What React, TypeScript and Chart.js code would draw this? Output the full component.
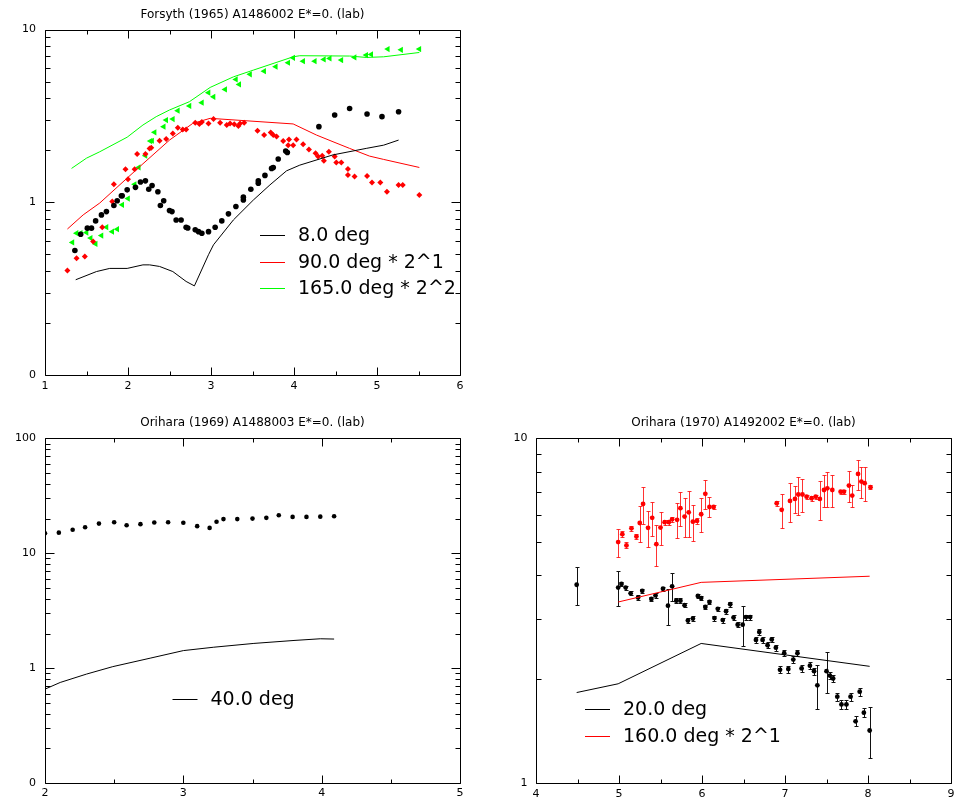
import React, { useEffect, useRef } from 'react';
import { Chart, registerables } from 'chart.js';

Chart.register(...registerables);

const FONT = 'DejaVu Sans';

// ---------------- Panel A: Forsyth (1965) ----------------
const titleA = 'Forsyth (1965) A1486002 E*=0. (lab)';
const xTicksA = [1, 2, 3, 4, 5, 6];
const yTicksA = [0.1, 1, 10];
const yLabelsA = ['0', '1', '10'];
const legendA = ['8.0 deg', '90.0 deg * 2^1', '165.0 deg * 2^2'];

const theory8X = [1.37, 1.62, 1.78, 1.99, 2.18, 2.26, 2.38, 2.54, 2.70, 2.80, 2.97, 3.03, 3.27, 3.51, 3.71, 3.91, 4.07, 4.47, 4.87, 5.08, 5.26];
const theory8Y = [0.356, 0.397, 0.414, 0.414, 0.434, 0.434, 0.425, 0.397, 0.348, 0.328, 0.497, 0.567, 0.79, 1.03, 1.26, 1.52, 1.64, 1.88, 2.05, 2.14, 2.29];

const theory90X = [1.27, 1.46, 1.66, 1.99, 2.18, 2.50, 2.78, 2.99, 3.99, 4.27, 4.47, 4.67, 4.91, 5.08, 5.51];
const theory90Y = [0.70, 0.845, 0.99, 1.38, 1.67, 2.29, 2.86, 3.06, 2.84, 2.45, 2.24, 2.05, 1.85, 1.77, 1.59];

const theory165X = [1.32, 1.50, 1.66, 1.99, 2.18, 2.34, 2.50, 2.74, 2.99, 3.27, 3.51, 3.99, 4.07, 4.67, 4.87, 5.08, 5.51];
const theory165Y = [1.57, 1.80, 1.96, 2.38, 2.80, 3.13, 3.42, 3.82, 4.62, 5.32, 5.82, 6.95, 7.05, 7.02, 6.89, 6.95, 7.36];

const exp8X = [1.36, 1.43, 1.51, 1.56, 1.61, 1.68, 1.74, 1.83, 1.87, 1.92, 1.93, 1.99, 2.09, 2.15, 2.21, 2.25, 2.29, 2.36, 2.39, 2.43, 2.50, 2.53, 2.58, 2.64, 2.70, 2.72, 2.81, 2.85, 2.89, 2.97, 3.05, 3.13, 3.21, 3.30, 3.39, 3.39, 3.48, 3.57, 3.57, 3.65, 3.73, 3.75, 3.81, 3.90, 3.92, 4.30, 4.49, 4.67, 4.88, 5.06, 5.26];
const exp8Y = [0.526, 0.653, 0.708, 0.708, 0.780, 0.845, 0.883, 0.957, 1.02, 1.09, 1.09, 1.18, 1.22, 1.31, 1.33, 1.19, 1.25, 1.15, 0.957, 1.02, 0.895, 0.883, 0.79, 0.79, 0.717, 0.71, 0.692, 0.676, 0.662, 0.676, 0.717, 0.78, 0.857, 0.944, 1.03, 1.07, 1.19, 1.29, 1.33, 1.43, 1.57, 1.59, 1.78, 1.98, 1.94, 2.74, 3.20, 3.49, 3.24, 3.13, 3.34];

const exp90X = [1.27, 1.38, 1.48, 1.58, 1.69, 1.81, 1.83, 1.97, 2.00, 2.08, 2.11, 2.21, 2.26, 2.28, 2.38, 2.46, 2.54, 2.60, 2.66, 2.70, 2.81, 2.86, 2.89, 2.97, 3.03, 3.11, 3.19, 3.23, 3.28, 3.33, 3.35, 3.40, 3.56, 3.64, 3.72, 3.75, 3.79, 3.87, 3.93, 3.94, 3.99, 4.03, 4.11, 4.18, 4.26, 4.29, 4.34, 4.36, 4.42, 4.49, 4.51, 4.57, 4.65, 4.65, 4.73, 4.88, 4.94, 5.04, 5.12, 5.26, 5.31, 5.51];
const exp90Y = [0.403, 0.474, 0.485, 0.593, 0.717, 1.01, 1.27, 1.55, 1.36, 1.55, 1.90, 1.90, 2.05, 2.07, 2.27, 2.32, 2.50, 2.70, 2.64, 2.64, 2.89, 2.84, 2.91, 2.86, 3.03, 2.89, 2.80, 2.86, 2.83, 2.76, 2.86, 2.89, 2.59, 2.45, 2.53, 2.45, 2.40, 2.26, 2.14, 2.31, 2.14, 2.31, 2.17, 2.02, 1.92, 1.84, 1.86, 1.74, 1.96, 1.84, 1.70, 1.70, 1.56, 1.44, 1.41, 1.42, 1.30, 1.30, 1.15, 1.26, 1.26, 1.10];

const exp165X = [1.33, 1.38, 1.43, 1.50, 1.55, 1.61, 1.68, 1.74, 1.81, 1.87, 1.93, 2.00, 2.08, 2.13, 2.21, 2.27, 2.29, 2.32, 2.43, 2.46, 2.54, 2.60, 2.74, 2.89, 2.97, 3.03, 3.17, 3.30, 3.34, 3.47, 3.64, 3.78, 3.93, 3.99, 4.11, 4.25, 4.36, 4.43, 4.57, 4.73, 4.87, 4.93, 5.13, 5.29, 5.51];
const exp165Y = [0.585, 0.662, 0.662, 0.668, 0.620, 0.574, 0.641, 0.717, 0.676, 0.698, 0.966, 1.05, 1.27, 1.59, 1.86, 2.26, 2.27, 2.54, 2.74, 2.99, 3.03, 3.39, 3.61, 3.77, 4.31, 4.08, 4.50, 5.14, 4.81, 5.50, 5.74, 6.09, 6.42, 6.86, 6.56, 6.56, 6.71, 6.80, 6.65, 6.89, 7.11, 7.17, 7.70, 7.63, 7.70];

// ---------------- Panel B: Orihara (1969) ----------------
const titleB = 'Orihara (1969) A1488003 E*=0. (lab)';
const xTicksB = [2, 3, 4, 5];
const yTicksB = [0.1, 1, 10, 100];
const yLabelsB = ['0', '1', '10', '100'];
const legendB = ['40.0 deg'];

const exp40X = [2.00, 2.10, 2.20, 2.29, 2.39, 2.50, 2.59, 2.69, 2.79, 2.89, 3.00, 3.10, 3.19, 3.24, 3.29, 3.39, 3.50, 3.60, 3.69, 3.79, 3.89, 3.99, 4.09];
const exp40Y = [14.9, 15.1, 16.0, 16.8, 18.1, 18.6, 17.5, 17.9, 18.5, 18.6, 18.4, 17.2, 16.6, 18.8, 19.8, 19.8, 20.0, 20.3, 21.4, 20.7, 20.7, 20.8, 21.0];
const theory40X = [2.00, 2.11, 2.30, 2.49, 2.76, 3.00, 3.22, 3.51, 3.80, 3.99, 4.09];
const theory40Y = [0.656, 0.750, 0.887, 1.03, 1.22, 1.42, 1.52, 1.64, 1.74, 1.80, 1.79];

// ---------------- Panel C: Orihara (1970) ----------------
const titleC = 'Orihara (1970) A1492002 E*=0. (lab)';
const xTicksC = [4, 5, 6, 7, 8, 9];
const yTicksC = [1, 10];
const yLabelsC = ['1', '10'];
const legendC = ['20.0 deg', '160.0 deg * 2^1'];

const theory20X = [4.49, 4.99, 5.99, 8.02];
const theory20Y = [1.83, 1.94, 2.54, 2.18];
const theory160X = [4.99, 5.99, 8.02];
const theory160Y = [3.35, 3.82, 3.98];

const exp20X = [4.49, 4.99, 5.03, 5.08, 5.14, 5.23, 5.28, 5.39, 5.44, 5.53, 5.59, 5.64, 5.69, 5.74, 5.79, 5.83, 5.89, 5.95, 5.99, 6.04, 6.09, 6.15, 6.19, 6.25, 6.29, 6.34, 6.38, 6.43, 6.49, 6.53, 6.58, 6.65, 6.69, 6.73, 6.79, 6.84, 6.89, 6.94, 6.99, 7.04, 7.10, 7.15, 7.20, 7.30, 7.35, 7.39, 7.50, 7.54, 7.58, 7.63, 7.68, 7.74, 7.79, 7.85, 7.90, 7.95, 8.02];
const exp20Y = [3.76, 3.69, 3.78, 3.69, 3.55, 3.45, 3.61, 3.42, 3.50, 3.66, 3.27, 3.72, 3.38, 3.38, 3.28, 2.96, 3.00, 3.49, 3.44, 3.24, 3.35, 3.01, 3.20, 2.97, 3.15, 3.30, 3.02, 2.88, 2.88, 3.03, 3.03, 2.60, 2.74, 2.60, 2.51, 2.61, 2.47, 2.13, 2.38, 2.14, 2.28, 2.38, 2.15, 2.19, 2.11, 1.92, 2.11, 2.05, 2.01, 1.78, 1.69, 1.69, 1.78, 1.51, 1.84, 1.60, 1.42];
const exp20Err = [0.48, 0.43, 0.05, 0.05, 0.05, 0.05, 0.05, 0.05, 0.05, 0.05, 0.39, 0.34, 0.05, 0.05, 0.05, 0.05, 0.05, 0.05, 0.05, 0.05, 0.05, 0.05, 0.05, 0.05, 0.05, 0.05, 0.05, 0.05, 0.39, 0.05, 0.05, 0.05, 0.05, 0.05, 0.05, 0.05, 0.05, 0.05, 0.05, 0.05, 0.05, 0.05, 0.05, 0.05, 0.05, 0.28, 0.29, 0.05, 0.05, 0.05, 0.05, 0.05, 0.05, 0.05, 0.05, 0.05, 0.24];

const exp160X = [4.99, 5.04, 5.09, 5.15, 5.21, 5.25, 5.29, 5.35, 5.40, 5.45, 5.50, 5.55, 5.60, 5.64, 5.70, 5.74, 5.79, 5.84, 5.89, 5.94, 5.99, 6.04, 6.09, 6.14, 6.90, 6.96, 7.06, 7.12, 7.16, 7.21, 7.26, 7.32, 7.37, 7.42, 7.47, 7.51, 7.57, 7.67, 7.71, 7.77, 7.81, 7.88, 7.92, 7.96, 8.03];
const exp160Y = [5.00, 5.27, 4.89, 5.48, 5.19, 5.68, 6.45, 5.50, 5.88, 4.93, 5.51, 5.71, 5.71, 5.82, 5.80, 6.27, 5.93, 6.10, 5.73, 5.76, 6.02, 6.90, 6.32, 6.32, 6.48, 6.20, 6.58, 6.67, 6.87, 6.87, 6.77, 6.70, 6.77, 6.67, 7.08, 7.16, 7.08, 7.00, 7.00, 7.29, 6.82, 7.88, 7.49, 7.41, 7.21];
const exp160Err = [0.47, 0.1, 0.1, 0.1, 0.1, 0.68, 0.79, 0.67, 0.67, 0.66, 0.62, 0.1, 0.1, 0.1, 0.67, 0.70, 0.77, 0.92, 0.68, 0.1, 0.67, 0.67, 0.42, 0.1, 0.1, 0.69, 0.85, 0.58, 0.86, 0.76, 0.1, 0.1, 0.1, 0.86, 0.76, 0.85, 0.76, 0.1, 0.1, 0.74, 0.48, 0.79, 0.77, 0.82, 0.1];

const BLACK = '#000000';
const RED = '#ff0000';
const GREEN = '#00ff00';

const zip = (xs: number[], ys: number[]) => xs.map((x, i) => ({ x, y: ys[i] }));

function lineDs(xs: number[], ys: number[], color: string) {
  return {
    data: zip(xs, ys),
    showLine: true,
    borderColor: color,
    borderWidth: 1,
    pointRadius: 0,
    pointHoverRadius: 0,
    fill: false,
    tension: 0,
  };
}

function pointDs(xs: number[], ys: number[], color: string, style: string, radius: number, rotation = 0, errors?: number[], errorColor?: string) {
  return {
    data: zip(xs, ys),
    showLine: false,
    backgroundColor: color,
    borderColor: color,
    borderWidth: 0,
    pointStyle: style,
    pointRadius: radius,
    pointRotation: rotation,
    pointHoverRadius: radius,
    errors,
    errorColor,
  };
}

interface PanelSpec {
  title: string;
  titlePad: { top: number; bottom: number };
  xMin: number; xMax: number; xTicks: number[]; xPad: number;
  yMin: number; yMax: number; yTicks: number[]; yLabels: string[]; yPad: number;
  yWidth: number; xHeight: number; padRight: number;
  datasets: any[];
  legendLabels: string[];
  legendColors: string[];
  legendPos: { left: number; top: number; spacing: number };
}

// frame + inward ticks on all four sides
function makeFramePlugin(p: PanelSpec) {
  return {
    id: 'frameTicks',
    afterDatasetsDraw(chart: any) {
      const ctx: CanvasRenderingContext2D = chart.ctx;
      const a = chart.chartArea;
      const x = chart.scales.x;
      const y = chart.scales.y;
      const L = Math.round(a.left) + 0.5;
      const R = Math.round(a.right) + 0.5;
      const T = Math.round(a.top) + 0.5;
      const B = Math.round(a.bottom) + 0.5;
      ctx.save();
      ctx.strokeStyle = '#000000';
      ctx.lineWidth = 1;
      const seg = (x1: number, y1: number, x2: number, y2: number) => {
        ctx.beginPath();
        ctx.moveTo(x1, y1);
        ctx.lineTo(x2, y2);
        ctx.stroke();
      };
      seg(L, T, R, T);
      seg(R, T, R, B);
      seg(R, B, L, B);
      seg(L, B, L, T);
      // x ticks every 0.5, major at integers
      const nX = Math.round((p.xMax - p.xMin) / 0.5);
      for (let k = 0; k <= nX; k++) {
        const v = p.xMin + k * 0.5;
        const px = Math.round(x.getPixelForValue(v)) + 0.5;
        const len = k % 2 === 0 ? 8 : 4;
        seg(px, B, px, B - len);
        seg(px, T, px, T + len);
      }
      // y ticks: log decades
      const d0 = Math.round(Math.log10(p.yMin));
      const d1 = Math.round(Math.log10(p.yMax));
      for (let d = d0; d <= d1; d++) {
        for (let m = 1; m <= 9; m++) {
          if (d === d1 && m > 1) break;
          const v = m * Math.pow(10, d);
          const py = Math.round(y.getPixelForValue(v)) + 0.5;
          const len = m === 1 ? 9 : 5;
          seg(L, py, L + len, py);
          seg(R, py, R - len, py);
        }
      }
      ctx.restore();
    },
  };
}

const errorBarPlugin = {
  id: 'errorBars',
  beforeDatasetsDraw(chart: any) {
    const { ctx, scales } = chart;
    const x = scales.x;
    const y = scales.y;
    chart.data.datasets.forEach((ds: any) => {
      if (!ds.errors) return;
      ctx.save();
      ctx.strokeStyle = ds.errorColor || '#000';
      ctx.lineWidth = 1;
      ctx.beginPath();
      ds.data.forEach((pt: any, i: number) => {
        const e = ds.errors[i];
        const px = Math.round(x.getPixelForValue(pt.x)) + 0.5;
        const lo = Math.round(y.getPixelForValue(pt.y - e)) + 0.5;
        const hi = Math.round(y.getPixelForValue(pt.y + e)) + 0.5;
        ctx.moveTo(px, lo); ctx.lineTo(px, hi);
        ctx.moveTo(px - 2, lo); ctx.lineTo(px + 2, lo);
        ctx.moveTo(px - 2, hi); ctx.lineTo(px + 2, hi);
      });
      ctx.stroke();
      ctx.restore();
    });
  },
};

function makeLegendPlugin(p: PanelSpec) {
  return {
    id: 'boxLegend',
    afterDraw(chart: any) {
      const { ctx, chartArea: a } = chart;
      ctx.save();
      ctx.font = `19px "${FONT}"`;
      ctx.textBaseline = 'middle';
      ctx.textAlign = 'left';
      ctx.fillStyle = '#000';
      p.legendLabels.forEach((label, i) => {
        const yy = Math.round(a.top + p.legendPos.top + i * p.legendPos.spacing) + 0.5;
        const x0 = a.left + p.legendPos.left;
        ctx.strokeStyle = p.legendColors[i];
        ctx.lineWidth = 1;
        ctx.beginPath();
        ctx.moveTo(x0, yy);
        ctx.lineTo(x0 + 25, yy);
        ctx.stroke();
        ctx.fillText(label, x0 + 38, yy + 1);
      });
      ctx.restore();
    },
  };
}

function makeConfig(p: PanelSpec): any {
  return {
    type: 'scatter',
    data: { datasets: p.datasets },
    options: {
      responsive: false,
      animation: false,
      devicePixelRatio: 1,
      events: [],
      layout: { padding: { left: 0, right: p.padRight, top: 0, bottom: 0 } },
      plugins: {
        legend: { display: false },
        tooltip: { enabled: false },
        title: {
          display: true,
          text: p.title,
          fullSize: false,
          color: '#000',
          font: { family: FONT, size: 12, weight: 'normal', lineHeight: 1.2 },
          padding: p.titlePad,
        },
      },
      scales: {
        x: {
          type: 'linear',
          min: p.xMin,
          max: p.xMax,
          grid: { display: false, drawTicks: false },
          border: { display: false },
          afterBuildTicks: (s: any) => { s.ticks = p.xTicks.map((v) => ({ value: v })); },
          afterFit: (s: any) => { s.height = p.xHeight; },
          ticks: {
            autoSkip: false,
            maxRotation: 0,
            color: '#000',
            padding: p.xPad,
            font: { family: FONT, size: 11 },
            callback: (v: any) => String(v),
          },
        },
        y: {
          type: 'logarithmic',
          min: p.yMin,
          max: p.yMax,
          grid: { display: false, drawTicks: false },
          border: { display: false },
          afterBuildTicks: (s: any) => { s.ticks = p.yTicks.map((v) => ({ value: v, major: true })); },
          afterFit: (s: any) => { s.width = p.yWidth; },
          ticks: {
            autoSkip: false,
            color: '#000',
            padding: p.yPad,
            font: { family: FONT, size: 11 },
            callback: (_v: any, i: number) => p.yLabels[i],
          },
        },
      },
    },
    plugins: [errorBarPlugin, makeFramePlugin(p), makeLegendPlugin(p)],
  };
}

const panelA: PanelSpec = {
  title: titleA,
  titlePad: { top: 7.8, bottom: 7.3 },
  xMin: 1, xMax: 6, xTicks: xTicksA, xPad: 5,
  yMin: 0.1, yMax: 10, yTicks: yTicksA, yLabels: yLabelsA, yPad: 9,
  yWidth: 45, xHeight: 27, padRight: 23,
  datasets: [
    lineDs(theory8X, theory8Y, BLACK),
    lineDs(theory90X, theory90Y, RED),
    lineDs(theory165X, theory165Y, GREEN),
    pointDs(exp8X, exp8Y, BLACK, 'circle', 2.8),
    pointDs(exp90X, exp90Y, RED, 'rectRot', 3),
    pointDs(exp165X, exp165Y, GREEN, 'triangle', 3.6, -90),
  ],
  legendLabels: legendA,
  legendColors: [BLACK, RED, GREEN],
  legendPos: { left: 215, top: 205.5, spacing: 26.7 },
};

const panelB: PanelSpec = {
  title: titleB,
  titlePad: { top: 13.5, bottom: 8.4 },
  xMin: 2, xMax: 5, xTicks: xTicksB, xPad: 4,
  yMin: 0.1, yMax: 100, yTicks: yTicksB, yLabels: yLabelsB, yPad: 9,
  yWidth: 45, xHeight: 21, padRight: 23,
  datasets: [
    lineDs(theory40X, theory40Y, BLACK),
    pointDs(exp40X, exp40Y, BLACK, 'circle', 2.3),
  ],
  legendLabels: legendB,
  legendColors: [BLACK],
  legendPos: { left: 127.5, top: 260.7, spacing: 27 },
};

const panelC: PanelSpec = {
  title: titleC,
  titlePad: { top: 13.5, bottom: 8.4 },
  xMin: 4, xMax: 9, xTicks: xTicksC, xPad: 5,
  yMin: 1, yMax: 10, yTicks: yTicksC, yLabels: yLabelsC, yPad: 8.5,
  yWidth: 53, xHeight: 21, padRight: 15,
  datasets: [
    lineDs(theory20X, theory20Y, BLACK),
    lineDs(theory160X, theory160Y, RED),
    pointDs(exp20X, exp20Y, BLACK, 'circle', 2.4, 0, exp20Err, '#111111'),
    pointDs(exp160X, exp160Y, RED, 'circle', 2.4, 0, exp160Err, 'rgba(255,0,0,0.8)'),
  ],
  legendLabels: legendC,
  legendColors: [BLACK, RED],
  legendPos: { left: 49, top: 270.7, spacing: 27 },
};

function Panel({ spec, left, top }: { spec: PanelSpec; left: number; top: number }) {
  const ref = useRef<HTMLCanvasElement>(null);
  useEffect(() => {
    const chart = new Chart(ref.current as HTMLCanvasElement, makeConfig(spec));
    return () => chart.destroy();
  }, [spec]);
  return (
    <canvas
      ref={ref}
      width={483}
      height={402}
      style={{ position: 'absolute', left, top, width: 483, height: 402 }}
    />
  );
}

export default function App() {
  return (
    <div style={{ position: 'absolute', left: 0, top: 0, width: 966, height: 804, background: '#fff' }}>
      <Panel spec={panelA} left={0} top={0} />
      <Panel spec={panelB} left={0} top={402} />
      <Panel spec={panelC} left={483} top={402} />
    </div>
  );
}
